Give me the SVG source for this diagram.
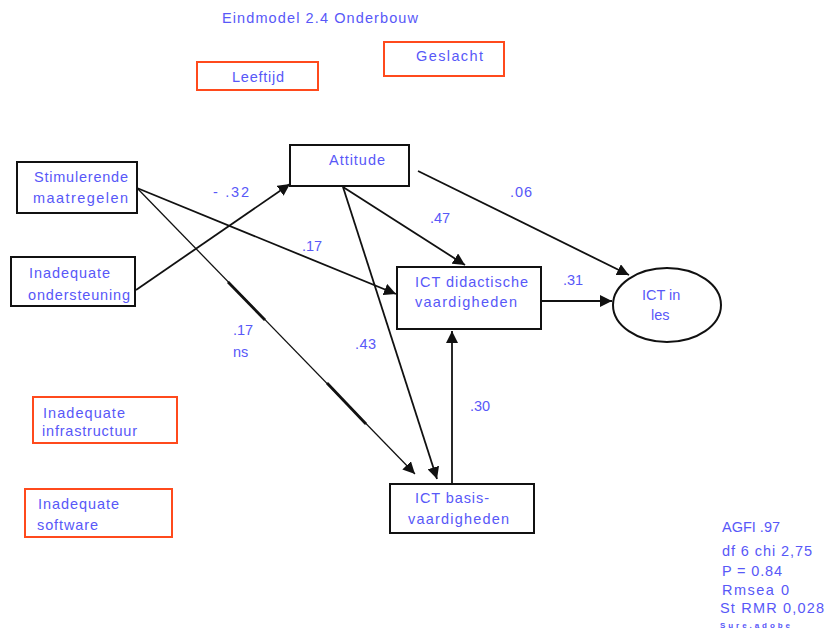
<svg xmlns="http://www.w3.org/2000/svg" width="825" height="631" viewBox="0 0 825 631">
  <style>
    .t { font-family: "Liberation Sans", Arial, sans-serif; font-size: 14.5px; fill: #5858f8; }
    .s { font-family: "Liberation Sans", Arial, sans-serif; font-size: 8px; font-weight: bold; fill: #5858f8; }
    .box { fill: #ffffff; stroke: #111111; stroke-width: 2; }
    .obox { fill: #ffffff; stroke: #ff4a1c; stroke-width: 2; }
    .edge { fill: none; stroke: #111111; stroke-width: 1.8; marker-end: url(#arr); }
    .thick { fill: none; stroke: #111111; stroke-width: 2.8; }
  </style>
  <defs>
    <marker id="arr" viewBox="0 0 10 10" refX="10" refY="5" markerWidth="12" markerHeight="12" markerUnits="userSpaceOnUse" orient="auto">
      <path d="M0,0 L10,5 L0,10 Z" fill="#111111"/>
    </marker>
  </defs>
  <rect width="825" height="631" fill="#ffffff"/>

  <text class="t" x="222" y="23" textLength="196" lengthAdjust="spacing">Eindmodel 2.4 Onderbouw</text>

  <!-- connectors -->
  <g id="connectors">
    <path class="edge" d="M136,290 L290,184"/>
    <path class="edge" d="M137,188 L396,294"/>
    <path class="edge" d="M137,188 L415,474" style="stroke-width:1.3"/>
    <path class="thick" d="M228,282 L265,320"/>
    <path class="thick" d="M327,383 L366,424"/>
    <path class="edge" d="M343,187 L465,265"/>
    <path class="edge" d="M343,187 L437,479"/>
    <path class="edge" d="M418,171 L629,275"/>
    <path class="edge" d="M541,301 L612,301"/>
    <path class="edge" d="M452,484 L452,331"/>
  </g>

  <!-- edge labels -->
  <g id="labels">
    <text class="t" x="213" y="197" textLength="36" lengthAdjust="spacing">- .32</text>
    <text class="t" x="510" y="197" textLength="22" lengthAdjust="spacing">.06</text>
    <text class="t" x="430" y="223">.47</text>
    <text class="t" x="302" y="251" textLength="20" lengthAdjust="spacing">.17</text>
    <text class="t" x="233" y="335">.17</text>
    <text class="t" x="233" y="357">ns</text>
    <text class="t" x="355" y="349" textLength="21" lengthAdjust="spacing">.43</text>
    <text class="t" x="563" y="285">.31</text>
    <text class="t" x="470" y="411" textLength="20" lengthAdjust="spacing">.30</text>
  </g>

  <g id="leeftijd">
    <rect class="obox" x="197" y="62" width="121" height="28"/>
    <text class="t" x="232" y="82" textLength="52" lengthAdjust="spacing">Leeftijd</text>
  </g>
  <g id="geslacht">
    <rect class="obox" x="384" y="42" width="120" height="34"/>
    <text class="t" x="416" y="61" textLength="67" lengthAdjust="spacing">Geslacht</text>
  </g>
  <g id="stimulerende">
    <rect class="box" x="17" y="162" width="120" height="51"/>
    <text class="t" x="34" y="182" textLength="94" lengthAdjust="spacing">Stimulerende</text>
    <text class="t" x="33" y="203" textLength="95" lengthAdjust="spacing">maatregelen</text>
  </g>
  <g id="ondersteuning">
    <rect class="box" x="11" y="257" width="124" height="49"/>
    <text class="t" x="29" y="278" textLength="81" lengthAdjust="spacing">Inadequate</text>
    <text class="t" x="28" y="300" textLength="102" lengthAdjust="spacing">ondersteuning</text>
  </g>
  <g id="attitude">
    <rect class="box" x="290" y="145" width="119" height="41"/>
    <text class="t" x="329" y="165" textLength="56" lengthAdjust="spacing">Attitude</text>
  </g>
  <g id="didactisch">
    <rect class="box" x="397" y="267" width="144" height="62"/>
    <text class="t" x="415" y="287" textLength="113" lengthAdjust="spacing">ICT didactische</text>
    <text class="t" x="415" y="307" textLength="102" lengthAdjust="spacing">vaardigheden</text>
  </g>
  <g id="ictinles">
    <ellipse cx="667" cy="305" rx="54" ry="37" fill="#ffffff" stroke="#111111" stroke-width="2"/>
    <text class="t" x="642" y="300">ICT in</text>
    <text class="t" x="651" y="320">les</text>
  </g>
  <g id="infrastructuur">
    <rect class="obox" x="33" y="397" width="144" height="46"/>
    <text class="t" x="43" y="418" textLength="82" lengthAdjust="spacing">Inadequate</text>
    <text class="t" x="42" y="436" textLength="95" lengthAdjust="spacing">infrastructuur</text>
  </g>
  <g id="software">
    <rect class="obox" x="25" y="489" width="147" height="48"/>
    <text class="t" x="38" y="509" textLength="81" lengthAdjust="spacing">Inadequate</text>
    <text class="t" x="37" y="530" textLength="61" lengthAdjust="spacing">software</text>
  </g>
  <g id="basis">
    <rect class="box" x="390" y="484" width="144" height="49"/>
    <text class="t" x="415" y="503" textLength="74" lengthAdjust="spacing">ICT basis-</text>
    <text class="t" x="408" y="524" textLength="101" lengthAdjust="spacing">vaardigheden</text>
  </g>

  <g id="fit">
    <text class="t" x="722" y="532">AGFI .97</text>
    <text class="t" x="722" y="556" textLength="90" lengthAdjust="spacing">df 6 chi 2,75</text>
    <text class="t" x="722" y="576" textLength="60" lengthAdjust="spacing">P = 0.84</text>
    <text class="t" x="722" y="595" textLength="67" lengthAdjust="spacing">Rmsea 0</text>
    <text class="t" x="720" y="613" textLength="104" lengthAdjust="spacing">St RMR 0,028</text>
    <text class="s" x="720" y="628" textLength="70" lengthAdjust="spacing">Sure.adobe</text>
  </g>
</svg>
